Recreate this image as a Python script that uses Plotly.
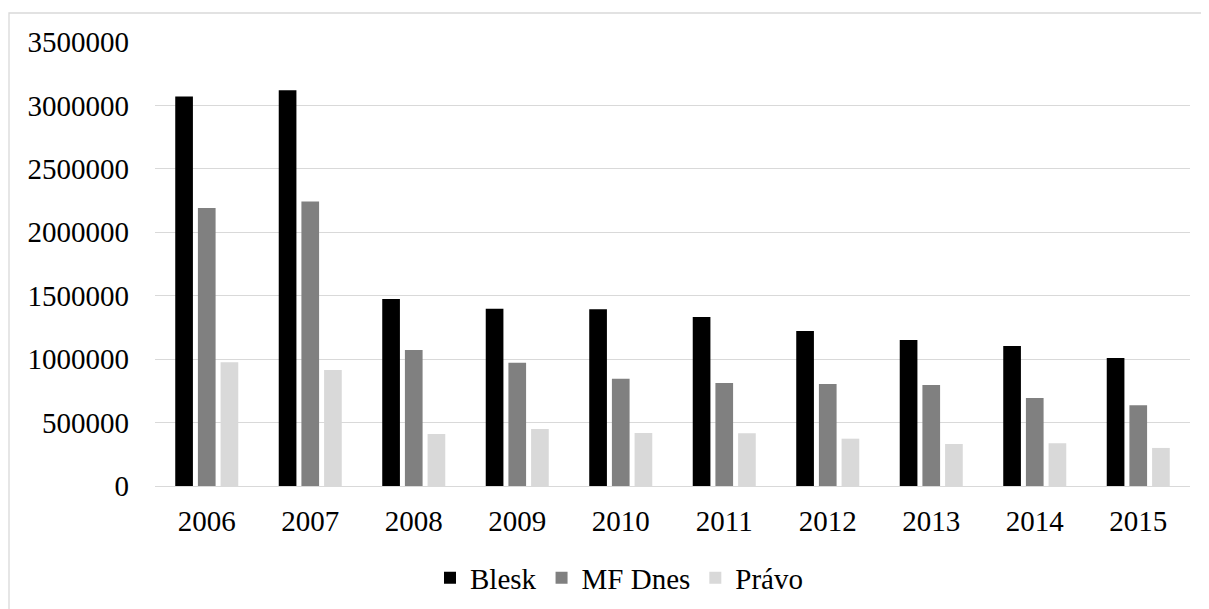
import plotly.graph_objects as go

years = ["2006", "2007", "2008", "2009", "2010", "2011", "2012", "2013", "2014", "2015"]
blesk = [3070000, 3120000, 1475000, 1398000, 1393000, 1333000, 1222000, 1151000, 1104000, 1009000]
mf_dnes = [2192000, 2242000, 1073000, 972000, 846000, 812000, 804000, 796000, 694000, 636000]
pravo = [975000, 915000, 410000, 450000, 418000, 415000, 373000, 331000, 337000, 300000]
y_ticks = [0, 500000, 1000000, 1500000, 2000000, 2500000, 3000000, 3500000]

FONT = "Liberation Serif"
FS = 29
OFF = 8  # default body margin of the page
W, H = 1209 - OFF, 609 - OFF
L, R, T, B = 155 - OFF, 19, 42 - OFF, 123

fig = go.Figure()
fig.add_trace(go.Bar(name="Blesk", x=years, y=blesk, marker=dict(color="#000000", line=dict(width=0))))
fig.add_trace(go.Bar(name="MF Dnes", x=years, y=mf_dnes, marker=dict(color="#808080", line=dict(width=0))))
fig.add_trace(go.Bar(name="Právo", x=years, y=pravo, marker=dict(color="#D9D9D9", line=dict(width=0))))

pw = W - L - R
ph = H - T - B

fig.update_layout(
    width=W, height=H,
    margin=dict(l=L, r=R, t=T, b=B, pad=0),
    paper_bgcolor="white", plot_bgcolor="white",
    barmode="group", bargap=0.343, bargroupgap=0.22,
    font=dict(family=FONT, size=FS, color="#000000"),
    showlegend=True,
    legend=dict(orientation="h", xref="container", yref="container",
                x=(619 - OFF) / W, xanchor="center", y=1 - (578 - OFF) / H, yanchor="middle",
                font=dict(family=FONT, size=FS, color="#000000"),
                itemwidth=30, bgcolor="rgba(0,0,0,0)"),
    xaxis=dict(showgrid=False, showline=True, linecolor="#D9D9D9", linewidth=1.3,
               ticks="", ticklabelstandoff=9, tickfont=dict(family=FONT, size=FS, color="#000000"),
               fixedrange=True, automargin=False),
    yaxis=dict(range=[0, 3500000], tickvals=y_ticks, ticktext=[str(v) for v in y_ticks],
               showgrid=True, gridcolor="#D9D9D9", gridwidth=1.3,
               zeroline=False, showline=False, ticks="", ticklabelstandoff=25,
               tickfont=dict(family=FONT, size=FS, color="#000000"), fixedrange=True,
               automargin=False),
    shapes=[dict(type="rect", xref="paper", yref="paper",
                 x0=(9 - OFF - L) / pw, x1=1.2, y0=-0.6, y1=(H - B - (13 - OFF)) / ph,
                 line=dict(color="#D9D9D9", width=1.3), fillcolor="rgba(0,0,0,0)", layer="below")],
)

fig.write_html("out.html")
